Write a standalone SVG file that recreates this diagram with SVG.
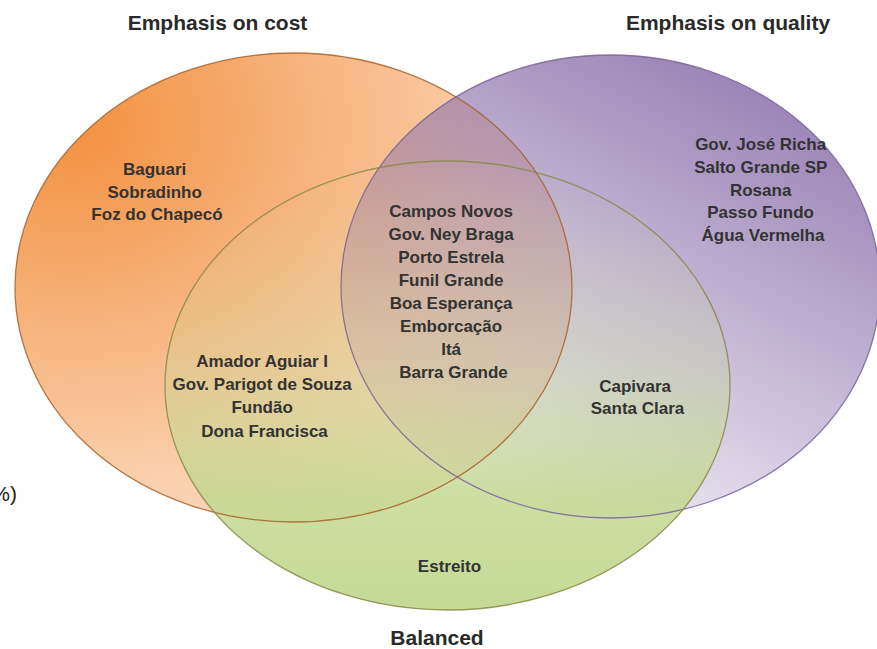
<svg xmlns="http://www.w3.org/2000/svg" width="877" height="649" viewBox="0 0 877 649">
  <defs>
    <!-- each set is one hue whose opacity fades across the shape -->
    <radialGradient id="gradCost" cx="0.1" cy="0.15" r="1">
      <stop offset="0" stop-color="#F28A35" stop-opacity="0.95"/>
      <stop offset="0.5" stop-color="#F28A35" stop-opacity="0.6"/>
      <stop offset="0.75" stop-color="#F28A35" stop-opacity="0.42"/>
      <stop offset="1" stop-color="#F28A35" stop-opacity="0.3"/>
    </radialGradient>
    <linearGradient id="gradQuality" x1="0.95" y1="0" x2="0.35" y2="1">
      <stop offset="0" stop-color="#8E74AE" stop-opacity="1"/>
      <stop offset="0.5" stop-color="#8E74AE" stop-opacity="0.55"/>
      <stop offset="1" stop-color="#8E74AE" stop-opacity="0.1"/>
    </linearGradient>
    <linearGradient id="gradBalanced" x1="0" y1="0" x2="0" y2="1">
      <stop offset="0" stop-color="#C3D891" stop-opacity="0"/>
      <stop offset="0.45" stop-color="#C3D891" stop-opacity="0.3"/>
      <stop offset="0.75" stop-color="#C3D891" stop-opacity="0.85"/>
      <stop offset="1" stop-color="#C3D891" stop-opacity="0.95"/>
    </linearGradient>
  </defs>
  <style>
    .outline { fill: none; stroke-width: 1.3; stroke-opacity: 0.85; }
    .title { font-family: "Liberation Sans", Arial, sans-serif; font-weight: bold; font-size: 21px; fill: #2A2A2A; text-anchor: middle; }
    .item { font-family: "Liberation Sans", Arial, sans-serif; font-weight: bold; font-size: 17px; fill: #333333; text-anchor: middle; }
  </style>

  <rect width="877" height="649" fill="#FFFFFF"/>

  <!-- set fills -->
  <g id="set-cost">
    <ellipse cx="293.5" cy="287.5" rx="278.5" ry="234.5" fill="url(#gradCost)"/>
  </g>
  <g id="set-quality">
    <ellipse cx="610.5" cy="286.5" rx="269.5" ry="231.5" fill="url(#gradQuality)"/>
  </g>
  <g id="set-balanced">
    <ellipse cx="447.5" cy="385.5" rx="282.5" ry="224.5" fill="url(#gradBalanced)"/>
  </g>

  <!-- set outlines -->
  <g id="outlines">
    <ellipse class="outline" cx="293.5" cy="287.5" rx="278.5" ry="234.5" stroke="#A8622A"/>
    <ellipse class="outline" cx="610.5" cy="286.5" rx="269.5" ry="231.5" stroke="#7A6396"/>
    <ellipse class="outline" cx="447.5" cy="385.5" rx="282.5" ry="224.5" stroke="#8A8A4A"/>
  </g>

  <!-- set titles -->
  <g id="titles">
    <text class="title" x="217.5" y="30">Emphasis on cost</text>
    <text class="title" x="728" y="30">Emphasis on quality</text>
    <text class="title" x="437" y="645">Balanced</text>
  </g>

  <!-- members of each region -->
  <g id="cost-only">
    <text class="item" x="157">
      <tspan x="157" y="175">Baguari</tspan>
      <tspan x="157" y="197.5">Sobradinho</tspan>
      <tspan x="157" y="220">Foz do Chapecó</tspan>
    </text>
  </g>
  <g id="quality-only">
    <text class="item" x="763">
      <tspan x="763" y="150">Gov. José Richa</tspan>
      <tspan x="763" y="172.8">Salto Grande SP</tspan>
      <tspan x="763" y="195.6">Rosana</tspan>
      <tspan x="763" y="218.4">Passo Fundo</tspan>
      <tspan x="763" y="241.2">Água Vermelha</tspan>
    </text>
  </g>
  <g id="all-three">
    <text class="item" x="453.5">
      <tspan x="453.5" y="217">Campos Novos</tspan>
      <tspan x="453.5" y="240">Gov. Ney Braga</tspan>
      <tspan x="453.5" y="263">Porto Estrela</tspan>
      <tspan x="453.5" y="286">Funil Grande</tspan>
      <tspan x="453.5" y="309">Boa Esperança</tspan>
      <tspan x="453.5" y="332">Emborcação</tspan>
      <tspan x="453.5" y="355">Itá</tspan>
      <tspan x="453.5" y="378">Barra Grande</tspan>
    </text>
  </g>
  <g id="cost-balanced">
    <text class="item" x="264.5">
      <tspan x="264.5" y="367">Amador Aguiar I</tspan>
      <tspan x="264.5" y="390">Gov. Parigot de Souza</tspan>
      <tspan x="264.5" y="413">Fundão</tspan>
      <tspan x="264.5" y="436.5">Dona Francisca</tspan>
    </text>
  </g>
  <g id="quality-balanced">
    <text class="item" x="637.5">
      <tspan x="637.5" y="391.5">Capivara</tspan>
      <tspan x="637.5" y="414">Santa Clara</tspan>
    </text>
  </g>
  <g id="balanced-only">
    <text class="item" x="449.5" y="572">Estreito</text>
  </g>

  <!-- clipped fragment at the left edge -->
  <text x="17" y="501" style="font-family: 'Liberation Sans', Arial, sans-serif; font-size: 21px; text-anchor: end; fill: #222;">%)</text>
</svg>
